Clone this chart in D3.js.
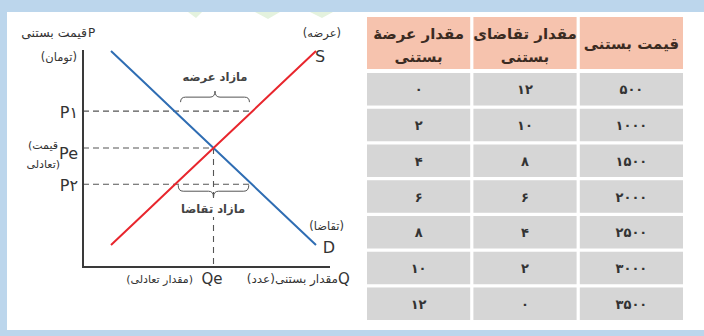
<!DOCTYPE html>
<html><head><meta charset="utf-8">
<script src="https://cdn.jsdelivr.net/npm/d3@7"></script>
<style>
body{margin:0;background:#fff}
svg{display:block}
text{font-family:"DejaVu Sans",sans-serif}
</style>
</head><body>
<svg id="c" width="704" height="336"></svg>
<script>
// ---- data ----
const prices = [500, 1000, 1500, 2000, 2500, 3000, 3500];
const demandQty = [12, 10, 8, 6, 4, 2, 0];
const supplyQty = [0, 2, 4, 6, 8, 10, 12];
const columnHeaders = [["قیمت بستنی"], ["مقدار تقاضای", "بستنی"], ["مقدار عرضهٔ", "بستنی"]];
const priceLevels = [{label: "P۱", p: 2570}, {label: "Pe", p: 2000}, {label: "P۲", p: 1440}];
const eqQty = 6, eqPrice = 2000;

const faDigits = "۰۱۲۳۴۵۶۷۸۹";
const fa = n => String(n).replace(/\d/g, d => faDigits[+d]);

const svg = d3.select("#c");
const frame = "#bcd6ec";

// frame
svg.append("rect").attr("width", 704).attr("height", 336).attr("fill", frame);
svg.append("rect").attr("x", 7).attr("y", 12).attr("width", 697).attr("height", 318).attr("fill", "#fff");
// faint watermark bits
const wm = [[[188,12],[202,12],[196,18]], [[255,12],[280,12],[268,19]], [[310,12],[333,12],[322,18]]];
svg.selectAll("polygon.wm").data(wm).join("polygon").attr("class","wm")
  .attr("points", d => d.map(p => p.join(",")).join(" ")).attr("fill", "#e4f2de");

// ---- chart ----
const x = d3.scaleLinear().domain([0, 12]).range([111, 316]);
const y = d3.scaleLinear().domain([500, 3500]).range([245, 51]);
const axX = 83, axY = 267, axTop = 50, axRight = 330;
const ink = "#3a3a3a";

const line = d3.line().x(d => x(d[0])).y(d => y(d[1]));
const qs = p => (p - 500) / 250;          // supply quantity at price
const qd = p => 12 - (p - 500) / 250;     // demand quantity at price

// dashed guides
const g = svg.append("g");
priceLevels.forEach(l => {
  const xe = l.p > eqPrice ? x(qs(l.p)) : l.p < eqPrice ? x(qd(l.p)) : x(eqQty);
  g.append("line").attr("x1", axX).attr("x2", xe).attr("y1", y(l.p)).attr("y2", y(l.p))
    .attr("stroke", "#555").attr("stroke-width", 1.1).attr("stroke-dasharray", "6,4");
});
g.append("line").attr("x1", x(eqQty)).attr("x2", x(eqQty)).attr("y1", y(eqPrice)).attr("y2", axY)
  .attr("stroke", "#555").attr("stroke-width", 1.1).attr("stroke-dasharray", "6,5");

// curves
svg.append("path").datum(demandQty.map((q, i) => [q, prices[i]])).attr("d", line)
  .attr("fill", "none").attr("stroke", "#2f6db3").attr("stroke-width", 2);
svg.append("path").datum(supplyQty.map((q, i) => [q, prices[i]])).attr("d", line)
  .attr("fill", "none").attr("stroke", "#e8262d").attr("stroke-width", 2);

// axes
svg.append("path").attr("d", `M${axX},${axTop}V${axY}H${axRight}`)
  .attr("fill", "none").attr("stroke", ink).attr("stroke-width", 2);

// braces
function brace(x1, x2, yEnd, yMid, yTip) {
  const xm = (x1 + x2) / 2, r = 5;
  return `M${x1},${yEnd}Q${x1},${yMid} ${x1 + r},${yMid}L${xm - r},${yMid}Q${xm},${yMid} ${xm},${yTip}` +
         `Q${xm},${yMid} ${xm + r},${yMid}L${x2 - r},${yMid}Q${x2},${yMid} ${x2},${yEnd}`;
}
const p1 = priceLevels[0].p, p2 = priceLevels[2].p;
svg.append("path").attr("d", brace(x(qd(p1)) + 6, x(qs(p1)) - 3, y(p1) - 9, y(p1) - 14, y(p1) - 20))
  .attr("fill", "none").attr("stroke", "#555").attr("stroke-width", 1);
svg.append("path").attr("d", brace(x(qs(p2)) + 3, x(qd(p2)) - 3, y(p2) + 1, y(p2) + 7, y(p2) + 13))
  .attr("fill", "none").attr("stroke", "#555").attr("stroke-width", 1);

// labels
const T = (tx, ty, s, size, anchor, weight, fill) => svg.append("text").attr("x", tx).attr("y", ty)
  .attr("font-size", size).attr("text-anchor", anchor || "middle").attr("font-weight", weight || "normal")
  .attr("fill", fill || "#333").text(s);

T(215, 81, "مازاد عرضه", 11.5, "middle", "bold", "#444");
svg.append("rect").attr("x", 182).attr("y", 201).attr("width", 62).attr("height", 16).attr("fill", "#fff");
T(213, 213, "مازاد تقاضا", 11.5, "middle", "bold", "#444");

T(88, 37, "P", 12, "start", "normal", "#333").attr("font-family", "Liberation Serif");
T(87, 37, "قیمت بستنی", 12.5, "end");
T(77, 61, "(تومان)", 11.5, "end");
T(341, 37, "(عرضه)", 11.5, "end");
T(320, 62, "S", 16, "middle", "normal", "#333").attr("font-family", "Liberation Sans");
T(344, 230, "(تقاضا)", 11.5, "end");
T(329, 253, "D", 16, "middle", "normal", "#333").attr("font-family", "Liberation Sans");

priceLevels.forEach((l, i) => {
  T(78, y(l.p) + (i === 1 ? 11 : 7), l.label, 16, "end").attr("font-family", "Liberation Sans");
});
T(58, 149, "(قیمت", 11, "end");
T(60, 168, "تعادلی)", 11, "end");

T(212, 284, "Qe", 15, "middle").attr("font-family", "Liberation Sans");
T(338, 284, "Q", 15, "start").attr("font-family", "Liberation Sans");
T(338, 283, "مقدار بستنی(عدد)", 12, "end");
T(193, 283, "(مقدار تعادلی)", 11, "end");

// ---- table ----
const colX = d3.scaleBand().domain([0, 1, 2]).range([683, 367]).paddingInner(0.03);
const rowY = d3.scaleBand().domain(d3.range(prices.length)).range([73, 320]).paddingInner(0.09);
const headTop = 17, headBot = 69;

const tbl = svg.append("g");
tbl.selectAll("rect.h").data(columnHeaders).join("rect").attr("class", "h")
  .attr("x", (d, i) => colX(i)).attr("y", headTop).attr("width", colX.bandwidth()).attr("height", headBot - headTop)
  .attr("fill", "#f6c3ae");
columnHeaders.forEach((h, i) => {
  const cx = colX(i) + colX.bandwidth() / 2;
  if (h.length === 1) T(cx, 49, h[0], 15, "middle", "bold", "#3b2b22");
  else { T(cx, 39, h[0], 15, "middle", "bold", "#3b2b22"); T(cx, 62, h[1], 15, "middle", "bold", "#3b2b22"); }
});

const rows = prices.map((p, i) => [p, demandQty[i], supplyQty[i]]);
rows.forEach((r, ri) => {
  r.forEach((v, ci) => {
    tbl.append("rect").attr("x", colX(ci)).attr("y", rowY(ri)).attr("width", colX.bandwidth())
      .attr("height", rowY.bandwidth()).attr("fill", "#d6d6d6");
    T(colX(ci) + colX.bandwidth() / 2, rowY(ri) + rowY.bandwidth() / 2 + 5, fa(v), 13, "middle", "bold", "#333");
  });
});
</script>
</body></html>
